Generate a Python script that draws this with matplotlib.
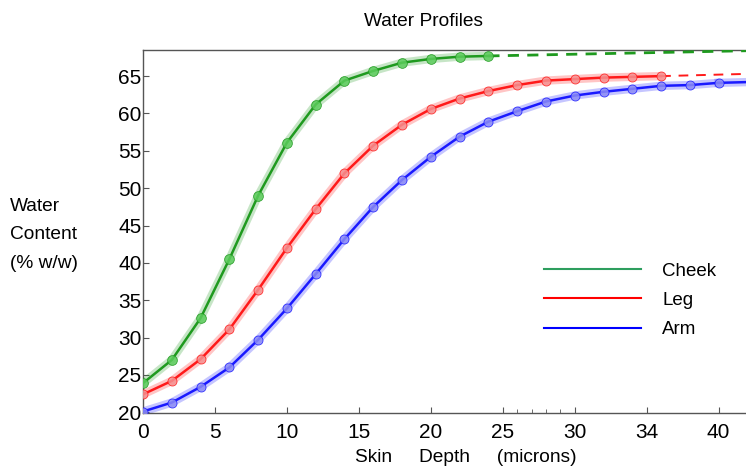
import matplotlib
matplotlib.use('Agg')
import matplotlib.pyplot as plt
from matplotlib.lines import Line2D

plt.rcParams['font.family'] = ['Liberation Sans', 'DejaVu Sans']

# skin depth (microns) and water content (% w/w)
cheek_x = [0, 2, 4, 6, 8, 10, 12, 14, 16, 18, 20, 22, 24]
cheek_y = [23.9, 27.0, 32.6, 40.5, 49.0, 56.1, 61.2, 64.4, 65.7, 66.8, 67.3, 67.6, 67.7]
cheek_ext_x = [24, 42]
cheek_ext_y = [67.7, 68.4]

leg_x = [0, 2, 4, 6, 8, 10, 12, 14, 16, 18, 20, 22, 24, 26, 28, 30, 32, 34, 36]
leg_y = [22.4, 24.2, 27.1, 31.1, 36.4, 42.0, 47.2, 52.0, 55.7, 58.5, 60.6, 62.0, 63.0,
         63.8, 64.4, 64.6, 64.8, 64.9, 65.0]
leg_ext_x = [36, 42]
leg_ext_y = [65.0, 65.3]

arm_x = [0, 2, 4, 6, 8, 10, 12, 14, 16, 18, 20, 22, 24, 26, 28, 30, 32, 34, 36, 38, 40]
arm_y = [20.1, 21.3, 23.4, 26.0, 29.7, 33.9, 38.5, 43.2, 47.5, 51.1, 54.2, 56.9, 58.9,
         60.3, 61.6, 62.4, 62.9, 63.3, 63.7, 63.8, 64.1]
arm_ext_x = [40, 42]
arm_ext_y = [64.1, 64.2]

x_ticks = [0, 5, 10, 15, 20, 25, 30, 35, 40]
x_ticklabels = ['0', '5', '10', '15', '20', '25', '30', '34', '40']
x_minor = [26, 27, 28, 29]
y_ticks = [20, 25, 30, 35, 40, 45, 50, 55, 60, 65]

fig = plt.figure(figsize=(7.46, 4.67), dpi=100)
ax = fig.add_axes([0.1917, 0.1156, 0.8083, 0.7774])


def draw(xs, ys, line_c, face_c, ms):
    ax.plot(xs, ys, color=line_c, lw=6, alpha=0.25, solid_capstyle='round', zorder=2)
    ax.plot(xs, ys, color=line_c, lw=1.8, zorder=3)
    ax.plot(xs, ys, ls='none', marker='o', ms=ms, mfc=face_c, mec=line_c,
            mew=0.6, alpha=0.85, zorder=4)


draw(cheek_x, cheek_y, '#1f9a1f', '#5ccc5c', 7)
ax.plot(cheek_ext_x, cheek_ext_y, color='#1f9a1f', lw=2, ls=(0, (4, 3)), zorder=3)

draw(leg_x, leg_y, '#ff1a1a', '#f59090', 6.5)
ax.plot(leg_ext_x, leg_ext_y, color='#ff1a1a', lw=1.4, ls=(0, (5, 4)), zorder=3)

draw(arm_x, arm_y, '#1a1aff', '#8c8cf5', 6.5)
ax.plot(arm_ext_x, arm_ext_y, color='#1a1aff', lw=1.8, zorder=3)
ax.plot(arm_ext_x, arm_ext_y, color='#1a1aff', lw=6, alpha=0.25, zorder=2)

ax.set_xlim(0, 41.9)
ax.set_ylim(19.9, 68.5)
ax.set_xticks(x_ticks)
ax.set_xticklabels(x_ticklabels)
ax.set_xticks(x_minor, minor=True)
ax.set_yticks(y_ticks)
ax.tick_params(axis='both', direction='in', length=4, width=0.8, labelsize=15,
               color='#555555')
ax.tick_params(axis='x', pad=7)
ax.tick_params(axis='y', pad=1)
ax.tick_params(axis='x', which='minor', direction='in', length=3, color='#555555')

ax.spines['right'].set_visible(False)
for s in ['left', 'bottom', 'top']:
    ax.spines[s].set_color('#555555')
    ax.spines[s].set_linewidth(1.0)

handles = [Line2D([], [], color='#2e9e5e', lw=1.5),
           Line2D([], [], color='red', lw=1.5),
           Line2D([], [], color='blue', lw=1.5)]
ax.legend(handles, ['Cheek', 'Leg', 'Arm'], loc='center left',
          bbox_to_anchor=(0.637, 0.31), frameon=False, fontsize=13.5,
          handlelength=5.2, handletextpad=1.1, labelspacing=0.64)

fig.text(0.568, 0.953, 'Water Profiles', ha='center', va='center', fontsize=13.8)
fig.text(0.013, 0.497, 'Water\nContent\n(% w/w)', ha='left', va='center',
         fontsize=13.8, linespacing=1.9)
fig.text(0.625, 0.021, 'Skin     Depth     (microns)', ha='center', va='center',
         fontsize=13.8)

fig.savefig('out.png', dpi=100)
